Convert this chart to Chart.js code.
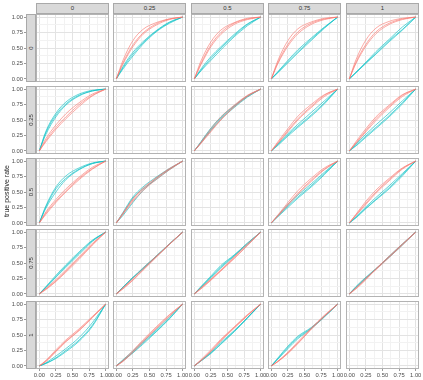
<!DOCTYPE html>
<html>
<head>
<meta charset="utf-8">
<script src="https://cdn.jsdelivr.net/npm/chart.js@4/dist/chart.umd.min.js"></script>
<style>
body { margin: 0; background: #fff; width: 423px; height: 380px; overflow: hidden; position: relative; font-family: "Liberation Sans", Arial, sans-serif; }
.panel { position: absolute; }
.strip-top { position: absolute; top: 3px; height: 11px; background: #d9d9d9; border: 1px solid #a9a9a9; box-sizing: border-box; font-size: 6px; color: #333; text-align: center; line-height: 9px; z-index: 2; }
.strip-left { position: absolute; left: 26px; width: 10px; background: #d9d9d9; border: 1px solid #a9a9a9; box-sizing: border-box; z-index: 2; }
.strip-left span { position: absolute; left: 50%; top: 50%; transform: translate(-50%, -50%) rotate(-90deg); font-size: 6px; color: #333; white-space: nowrap; }
#ytitle { position: absolute; left: 6px; top: 191px; transform: translate(-50%, -50%) rotate(-90deg); font-size: 7px; color: #222; white-space: nowrap; z-index: 2; }
</style>
</head>
<body>
<div id="ytitle">true positive rate</div>
<script>
var facetLevels = ['0', '0.25', '0.5', '0.75', '1'];
var fpr = [0, 0.1, 0.25, 0.4, 0.6, 0.8, 1];
var gridVals = [0, 0.125, 0.25, 0.375, 0.5, 0.625, 0.75, 0.875, 1];
var majorVals = [0, 0.25, 0.5, 0.75, 1];
var tickLabels = ['0.00', '0.25', '0.50', '0.75', '1.00'];

// true positive rate at each fpr value, per row facet, column facet and curve
var redRow0 = [null,
  [[0, .26, .55, .74, .89, .97, 1], [0, .30, .62, .80, .91, .97, 1], [0, .24, .52, .72, .87, .96, 1]],
  [[0, .25, .55, .75, .90, .97, 1], [0, .29, .60, .79, .91, .98, 1], [0, .23, .52, .72, .88, .96, 1]],
  [[0, .27, .56, .76, .90, .97, 1], [0, .30, .62, .81, .92, .98, 1], [0, .25, .53, .73, .88, .96, 1]],
  [[0, .27, .56, .76, .90, .97, 1], [0, .31, .63, .82, .93, .98, 1], [0, .25, .53, .73, .88, .96, 1]]];
var cyanRow0 = [null,
  [[0, .18, .40, .58, .77, .91, 1], [0, .20, .43, .60, .78, .92, 1], [0, .16, .37, .56, .76, .90, 1]],
  [[0, .14, .33, .50, .70, .88, 1], [0, .16, .36, .52, .72, .89, 1], [0, .13, .30, .47, .68, .86, 1]],
  [[0, .11, .28, .44, .64, .83, 1], [0, .12, .30, .47, .66, .84, 1], [0, .10, .26, .42, .62, .82, 1]],
  [[0, .10, .26, .41, .62, .80, 1], [0, .11, .27, .44, .64, .84, 1], [0, .10, .25, .40, .60, .79, 1]]];

var redRow1 = [
  [[0, .17, .38, .55, .75, .90, 1], [0, .20, .42, .60, .78, .92, 1], [0, .15, .35, .52, .72, .89, 1]],
  null,
  [[0, .13, .33, .51, .71, .88, 1], [0, .12, .31, .50, .72, .89, 1], [0, .14, .36, .55, .74, .90, 1]],
  [[0, .13, .33, .52, .72, .90, 1], [0, .15, .36, .56, .75, .91, 1], [0, .12, .31, .50, .70, .88, 1]],
  [[0, .13, .33, .52, .72, .90, 1], [0, .15, .36, .55, .74, .91, 1], [0, .12, .31, .49, .70, .88, 1]]];
var cyanRow1 = [
  [[0, .30, .58, .76, .90, .97, 1], [0, .27, .55, .74, .89, .97, 1], [0, .32, .61, .79, .92, .98, 1]],
  null,
  [[0, .14, .35, .53, .72, .88, 1], [0, .15, .37, .55, .73, .89, 1], [0, .13, .33, .51, .70, .87, 1]],
  [[0, .10, .26, .40, .58, .78, 1], [0, .11, .28, .43, .62, .81, 1], [0, .09, .24, .38, .56, .76, 1]],
  [[0, .09, .24, .38, .57, .78, 1], [0, .11, .27, .42, .61, .81, 1], [0, .08, .22, .36, .55, .76, 1]]];

var redRow2 = [
  [[0, .16, .35, .52, .72, .88, 1], [0, .18, .38, .55, .74, .90, 1], [0, .14, .33, .50, .70, .87, 1]],
  [[0, .15, .37, .54, .72, .87, 1], [0, .14, .35, .52, .70, .86, 1], [0, .16, .39, .56, .73, .88, 1]],
  null,
  [[0, .12, .30, .48, .69, .87, 1], [0, .13, .33, .52, .72, .89, 1], [0, .11, .29, .46, .67, .86, 1]],
  [[0, .13, .32, .50, .70, .88, 1], [0, .14, .35, .53, .72, .89, 1], [0, .12, .30, .48, .68, .87, 1]]];
var cyanRow2 = [
  [[0, .26, .55, .72, .87, .96, 1], [0, .24, .50, .70, .86, .96, 1], [0, .28, .58, .76, .89, .97, 1]],
  [[0, .15, .40, .55, .70, .86, 1], [0, .12, .33, .52, .72, .87, 1], [0, .17, .42, .58, .74, .88, 1]],
  null,
  [[0, .11, .27, .42, .60, .80, 1], [0, .10, .25, .40, .58, .78, 1], [0, .12, .30, .45, .63, .82, 1]],
  [[0, .09, .24, .38, .57, .78, 1], [0, .10, .26, .41, .60, .80, 1], [0, .08, .23, .37, .55, .76, 1]]];

var redRow3 = [
  [[0, .08, .21, .37, .58, .80, 1], [0, .09, .23, .39, .60, .82, 1], [0, .07, .20, .35, .56, .79, 1]],
  [[0, .09, .23, .39, .60, .81, 1], [0, .10, .25, .41, .61, .80, 1], [0, .08, .22, .38, .59, .80, 1]],
  [[0, .09, .23, .38, .58, .79, 1], [0, .10, .24, .39, .60, .81, 1], [0, .08, .22, .37, .57, .78, 1]],
  null,
  [[0, .09, .24, .41, .60, .80, 1], [0, .10, .26, .39, .59, .79, 1], [0, .08, .23, .40, .61, .81, 1]]];
var cyanRow3 = [
  [[0, .11, .28, .45, .66, .86, 1], [0, .12, .30, .47, .68, .87, 1], [0, .10, .27, .43, .64, .85, 1]],
  [[0, .11, .27, .41, .61, .81, 1], [0, .10, .26, .40, .60, .80, 1], [0, .11, .26, .42, .61, .81, 1]],
  [[0, .11, .27, .44, .62, .82, 1], [0, .10, .26, .42, .61, .80, 1], [0, .12, .29, .46, .63, .82, 1]],
  null,
  [[0, .11, .26, .40, .60, .80, 1], [0, .12, .27, .41, .59, .79, 1], [0, .10, .25, .40, .61, .81, 1]]];

var redRow4 = [
  [[0, .08, .24, .40, .58, .79, 1], [0, .09, .26, .42, .60, .80, 1], [0, .07, .23, .39, .57, .78, 1]],
  [[0, .08, .23, .40, .61, .82, 1], [0, .09, .25, .42, .63, .83, 1], [0, .07, .22, .38, .60, .80, 1]],
  [[0, .09, .24, .42, .62, .82, 1], [0, .10, .26, .43, .63, .83, 1], [0, .08, .23, .40, .61, .81, 1]],
  [[0, .07, .21, .37, .60, .81, 1], [0, .08, .22, .39, .61, .82, 1], [0, .07, .20, .36, .59, .80, 1]],
  null];
var cyanRow4 = [
  [[0, .04, .13, .25, .42, .66, 1], [0, .05, .16, .28, .46, .70, 1], [0, .04, .12, .23, .40, .64, 1]],
  [[0, .09, .22, .37, .56, .77, 1], [0, .10, .24, .39, .58, .79, 1], [0, .08, .21, .35, .55, .76, 1]],
  [[0, .08, .21, .36, .56, .78, 1], [0, .09, .22, .38, .57, .78, 1], [0, .08, .20, .35, .55, .77, 1]],
  [[0, .12, .30, .46, .61, .80, 1], [0, .11, .28, .44, .60, .79, 1], [0, .13, .32, .48, .62, .80, 1]],
  null];

var redRows = [redRow0, redRow1, redRow2, redRow3, redRow4];
var cyanRows = [cyanRow0, cyanRow1, cyanRow2, cyanRow3, cyanRow4];

// layout of the facet grid
var plotLeft = [36, 113, 191, 268, 346];
var plotTop = [14, 86, 158, 229, 301];
var plotW = 73, plotH = 68, pad = 8;
var yAxisW = 36, xAxisH = 12;

var panelBorder = {
  id: 'panelBorder',
  afterDraw: function(chart) {
    var a = chart.chartArea, c = chart.ctx;
    c.save();
    c.strokeStyle = '#b3b3b3';
    c.lineWidth = 1;
    c.strokeRect(a.left + 0.5, a.top + 0.5, a.right - a.left - 1, a.bottom - a.top - 1);
    c.restore();
  }
};

function tickText(value) {
  var k = majorVals.indexOf(value);
  return k >= 0 ? tickLabels[k] : '';
}
function gridColor(ctx) {
  return ctx.tick && majorVals.indexOf(ctx.tick.value) >= 0 ? '#e3e3e3' : '#f2f2f2';
}
function tickColor(ctx) {
  return ctx.tick && majorVals.indexOf(ctx.tick.value) >= 0 ? '#9a9a9a' : 'rgba(0,0,0,0)';
}

function makeScale(showTicks, isY) {
  return {
    type: 'linear',
    min: -0.05,
    max: 1.05,
    afterBuildTicks: function(s) { s.ticks = gridVals.map(function(v) { return {value: v}; }); },
    afterFit: function(s) {
      if (isY) s.width = showTicks ? yAxisW : 0;
      else s.height = showTicks ? xAxisH : 0;
    },
    border: {display: false},
    grid: {
      color: gridColor,
      lineWidth: 1,
      drawTicks: showTicks,
      tickLength: isY ? 12 : 2,
      tickColor: tickColor
    },
    ticks: {
      display: showTicks,
      autoSkip: false,
      maxRotation: 0,
      padding: 1,
      color: '#4d4d4d',
      font: {family: '"Liberation Sans", Arial, sans-serif', size: 5.8},
      callback: tickText
    }
  };
}

function curveSets(curves, color) {
  if (!curves) return [];
  return curves.map(function(tpr) {
    return {
      data: tpr.map(function(v, i) { return {x: fpr[i], y: v}; }),
      borderColor: color,
      borderWidth: 1,
      pointRadius: 0,
      cubicInterpolationMode: 'monotone',
      fill: false
    };
  });
}

function drawPanel(r, c) {
  var leftAxis = c === 0;
  var bottomAxis = r === 4;
  var x0 = plotLeft[c] - pad - (leftAxis ? yAxisW : 0);
  var y0 = plotTop[r] - pad;
  var w = plotW + 2 * pad + (leftAxis ? yAxisW : 0);
  var h = plotH + 2 * pad + (bottomAxis ? xAxisH : 0);

  var box = document.createElement('div');
  box.className = 'panel';
  box.style.left = x0 + 'px';
  box.style.top = y0 + 'px';
  var canvas = document.createElement('canvas');
  canvas.width = w;
  canvas.height = h;
  canvas.style.width = w + 'px';
  canvas.style.height = h + 'px';
  box.appendChild(canvas);
  document.body.appendChild(box);

  var datasets = curveSets(redRows[r][c], 'rgba(248, 118, 109, 0.62)')
    .concat(curveSets(cyanRows[r][c], 'rgba(0, 191, 196, 0.62)'));

  new Chart(canvas.getContext('2d'), {
    type: 'line',
    data: {datasets: datasets},
    options: {
      responsive: false,
      animation: false,
      events: [],
      layout: {padding: pad},
      scales: {
        x: makeScale(bottomAxis, false),
        y: makeScale(leftAxis, true)
      },
      plugins: {
        legend: {display: false},
        tooltip: {enabled: false}
      }
    },
    plugins: [panelBorder]
  });
}

function drawStrips(i) {
  var colStrip = document.createElement('div');
  colStrip.className = 'strip-top';
  colStrip.style.left = plotLeft[i] + 'px';
  colStrip.style.width = plotW + 'px';
  colStrip.textContent = facetLevels[i];
  document.body.appendChild(colStrip);

  var rowStrip = document.createElement('div');
  rowStrip.className = 'strip-left';
  rowStrip.style.top = plotTop[i] + 'px';
  rowStrip.style.height = plotH + 'px';
  var label = document.createElement('span');
  label.textContent = facetLevels[i];
  rowStrip.appendChild(label);
  document.body.appendChild(rowStrip);
}

for (var r = 0; r < 5; r++) {
  for (var c = 0; c < 5; c++) {
    drawPanel(r, c);
  }
}
for (var i = 0; i < 5; i++) {
  drawStrips(i);
}
</script>
</body>
</html>
